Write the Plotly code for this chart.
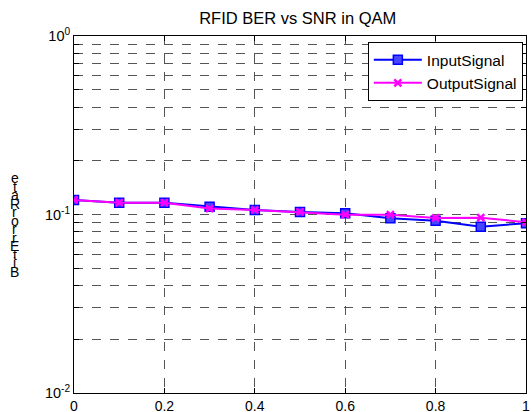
import plotly.graph_objects as go

x_vals = [0, 0.1, 0.2, 0.3, 0.4, 0.5, 0.6, 0.7, 0.8, 0.9, 1.0]
input_ber = [0.1206, 0.1164, 0.1164, 0.1106, 0.106, 0.1033, 0.1015, 0.0952, 0.0923, 0.0855, 0.0893]
output_ber = [0.1206, 0.1164, 0.1164, 0.108, 0.106, 0.1033, 0.0998, 0.0998, 0.0957, 0.096, 0.0905]
x_ticks = [0, 0.2, 0.4, 0.6, 0.8, 1]
x_ticklabels = ["0", "0.2", "0.4", "0.6", "0.8", "1"]
decades = [0.01, 0.1, 1]
decade_labels = ["10<sup>-2</sup>", "10<sup>-1</sup>", "10<sup>0</sup>"]
title = "RFID BER vs SNR in QAM"
ylabel = "BitErrorRate"

# y tick positions: decades plus minor multiples for grid
yvals, ytext = [], []
for d, lab in zip(decades, decade_labels):
    yvals.append(d)
    ytext.append(lab)
    if d < 1:
        for m in range(2, 10):
            yvals.append(d * m)
            ytext.append("")

fig = go.Figure()
fig.add_trace(go.Scatter(
    x=x_vals, y=input_ber, name="InputSignal", mode="lines+markers",
    line=dict(color="#0000ff", width=2),
    marker=dict(symbol="square", size=9, color="rgba(70,70,255,1)",
                line=dict(color="#0000ff", width=1.5)),
))
fig.add_trace(go.Scatter(
    x=x_vals, y=output_ber, name="OutputSignal", mode="lines+markers",
    line=dict(color="#ff00ff", width=2),
    marker=dict(symbol="x-thin", size=7, color="#ff00ff",
                line=dict(color="#ff00ff", width=2.5)),
))

font_family = "Liberation Sans, Arial, sans-serif"

fig.update_layout(
    width=531, height=412,
    margin=dict(l=74, r=5, t=36, b=19),
    paper_bgcolor="white", plot_bgcolor="white",
    font=dict(family=font_family, size=14, color="black"),
    title=dict(text=title, x=0.5607, xanchor="center", y=0.956, yanchor="middle",
               font=dict(size=16.5)),
    showlegend=True,
    legend=dict(x=0.993, y=0.983, xanchor="right", yanchor="top",
                bgcolor="white", bordercolor="black", borderwidth=1,
                font=dict(size=15.5), itemwidth=48, tracegroupgap=0),
)

fig.update_xaxes(
    range=[0, 1], tickvals=x_ticks, ticktext=x_ticklabels, automargin=False,
    ticklabeloverflow="allow",
    showline=True, linecolor="black", linewidth=1, mirror="ticks",
    ticks="inside", ticklen=5, tickcolor="black",
    showgrid=True, gridcolor="#555555", griddash="dash", gridwidth=1,
    zeroline=False, tickfont=dict(size=14),
)
fig.update_yaxes(
    type="log", range=[-2, 0], tickvals=yvals, ticktext=ytext, automargin=False,
    ticklabeloverflow="allow",
    showline=True, linecolor="black", linewidth=1, mirror="ticks",
    ticks="inside", ticklen=5, tickcolor="black",
    showgrid=True, gridcolor="#555555", griddash="dash", gridwidth=1,
    zeroline=False, tickfont=dict(size=14.5),
)

# y-axis label letters stacked (as in reference rendering)
letters = list(ylabel)[::-1]
n = len(letters)
top_px, bot_px = 178, 272
plot_top, plot_h, plot_l, plot_w = 36, 357, 74, 452
for i, ch in enumerate(letters):
    ypx = top_px + (bot_px - top_px) * i / (n - 1)
    fig.add_annotation(
        text=ch, xref="paper", yref="paper",
        x=(15 - plot_l) / plot_w, y=1 - (ypx - plot_top) / plot_h,
        showarrow=False, xanchor="center", yanchor="middle",
        font=dict(size=14, family=font_family),
    )

fig.write_html("out.html")
